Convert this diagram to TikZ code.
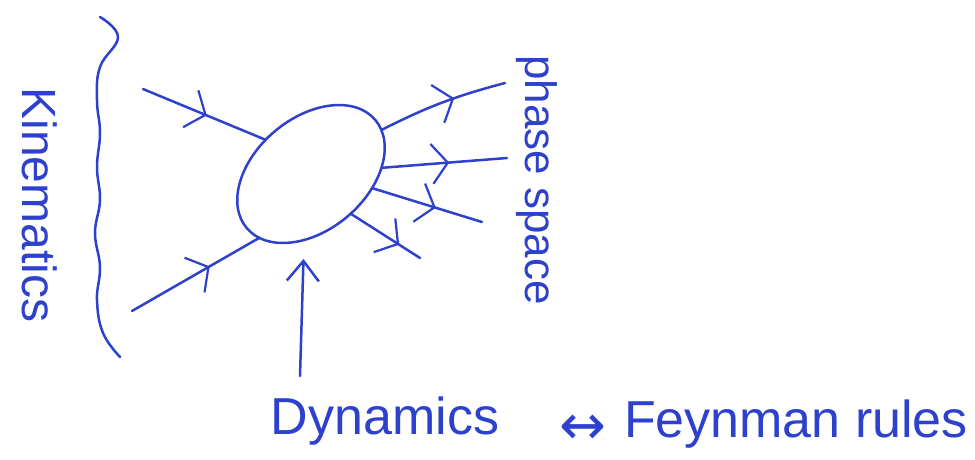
\documentclass[tikz,border=0pt]{standalone}
\usepackage{fontspec}
\setmainfont{Liberation Sans}
\newfontfamily\symfont{DejaVu Sans}
\usetikzlibrary{arrows.meta,decorations.markings,shapes.geometric}
\definecolor{ink}{RGB}{45,65,205}
\begin{document}
\begin{tikzpicture}[x=1pt,y=-1pt,
  inkline/.style={draw=ink, line width=2.5pt, line cap=round},
  chev/.style={postaction={decorate}, decoration={markings, mark=at position #1 with {\arrow[ink, line width=2.2pt]{Straight Barb[length=16pt,width=40pt]}}}},
  handtext/.style={text=ink, inner sep=0pt, font=\fontsize{#1}{#1}\selectfont}]
\useasboundingbox (0,0) rectangle (975,459);
% central blob
\node[ellipse, draw=ink, line width=2.5pt, minimum width=168pt, minimum height=112pt, rotate=40, inner sep=0pt, outer sep=0pt] (blob) at (311,174) {};
% wavy boundary
\draw[inkline] plot[smooth, tension=0.7] coordinates {(100,17) (118,37) (100,67) (97,100) (100,133) (97,167) (100,200) (95,233) (100,267) (97,300) (103,333) (120,357)};
% free ends
\coordinate (in1) at (143,89);
\coordinate (in2) at (132,311);
\coordinate (out1) at (505,83);
\coordinate (out2) at (507,158);
\coordinate (out3) at (482,222);
\coordinate (out4) at (420,258);
\coordinate (dynfoot) at (300,376);
% incoming lines
\draw[inkline, chev=0.52] (in1) -- (blob.103);
\draw[inkline, chev=0.61] (in2) -- (blob.191);
% outgoing lines
\draw[inkline, chev=0.6] (blob.352) to[bend left=6] (out1);
\draw[inkline, chev=0.54] (blob.325) -- (out2);
\draw[inkline, chev=0.58] (blob.307) -- (out3);
\draw[inkline, chev=0.7] (blob.275) -- (out4);
% dynamics arrow
\draw[inkline, -{Straight Barb[length=20pt,width=32pt]}, shorten >=19pt] (dynfoot) -- (blob.224);
% labels
\node[handtext=48, rotate=-90] (kin) at (40,205) {Kinematics};
\node[handtext=44, rotate=-90] (ps) at (537,180) {phase space};
\node[handtext=52] (dyn) at (385,421) {Dynamics};
\node[handtext=56, font=\symfont\fontsize{56}{56}\selectfont] (eqv) at (583,430) {↔};
\node[handtext=52] (feyn) at (796,424) {Feynman rules};
\end{tikzpicture}
\end{document}
